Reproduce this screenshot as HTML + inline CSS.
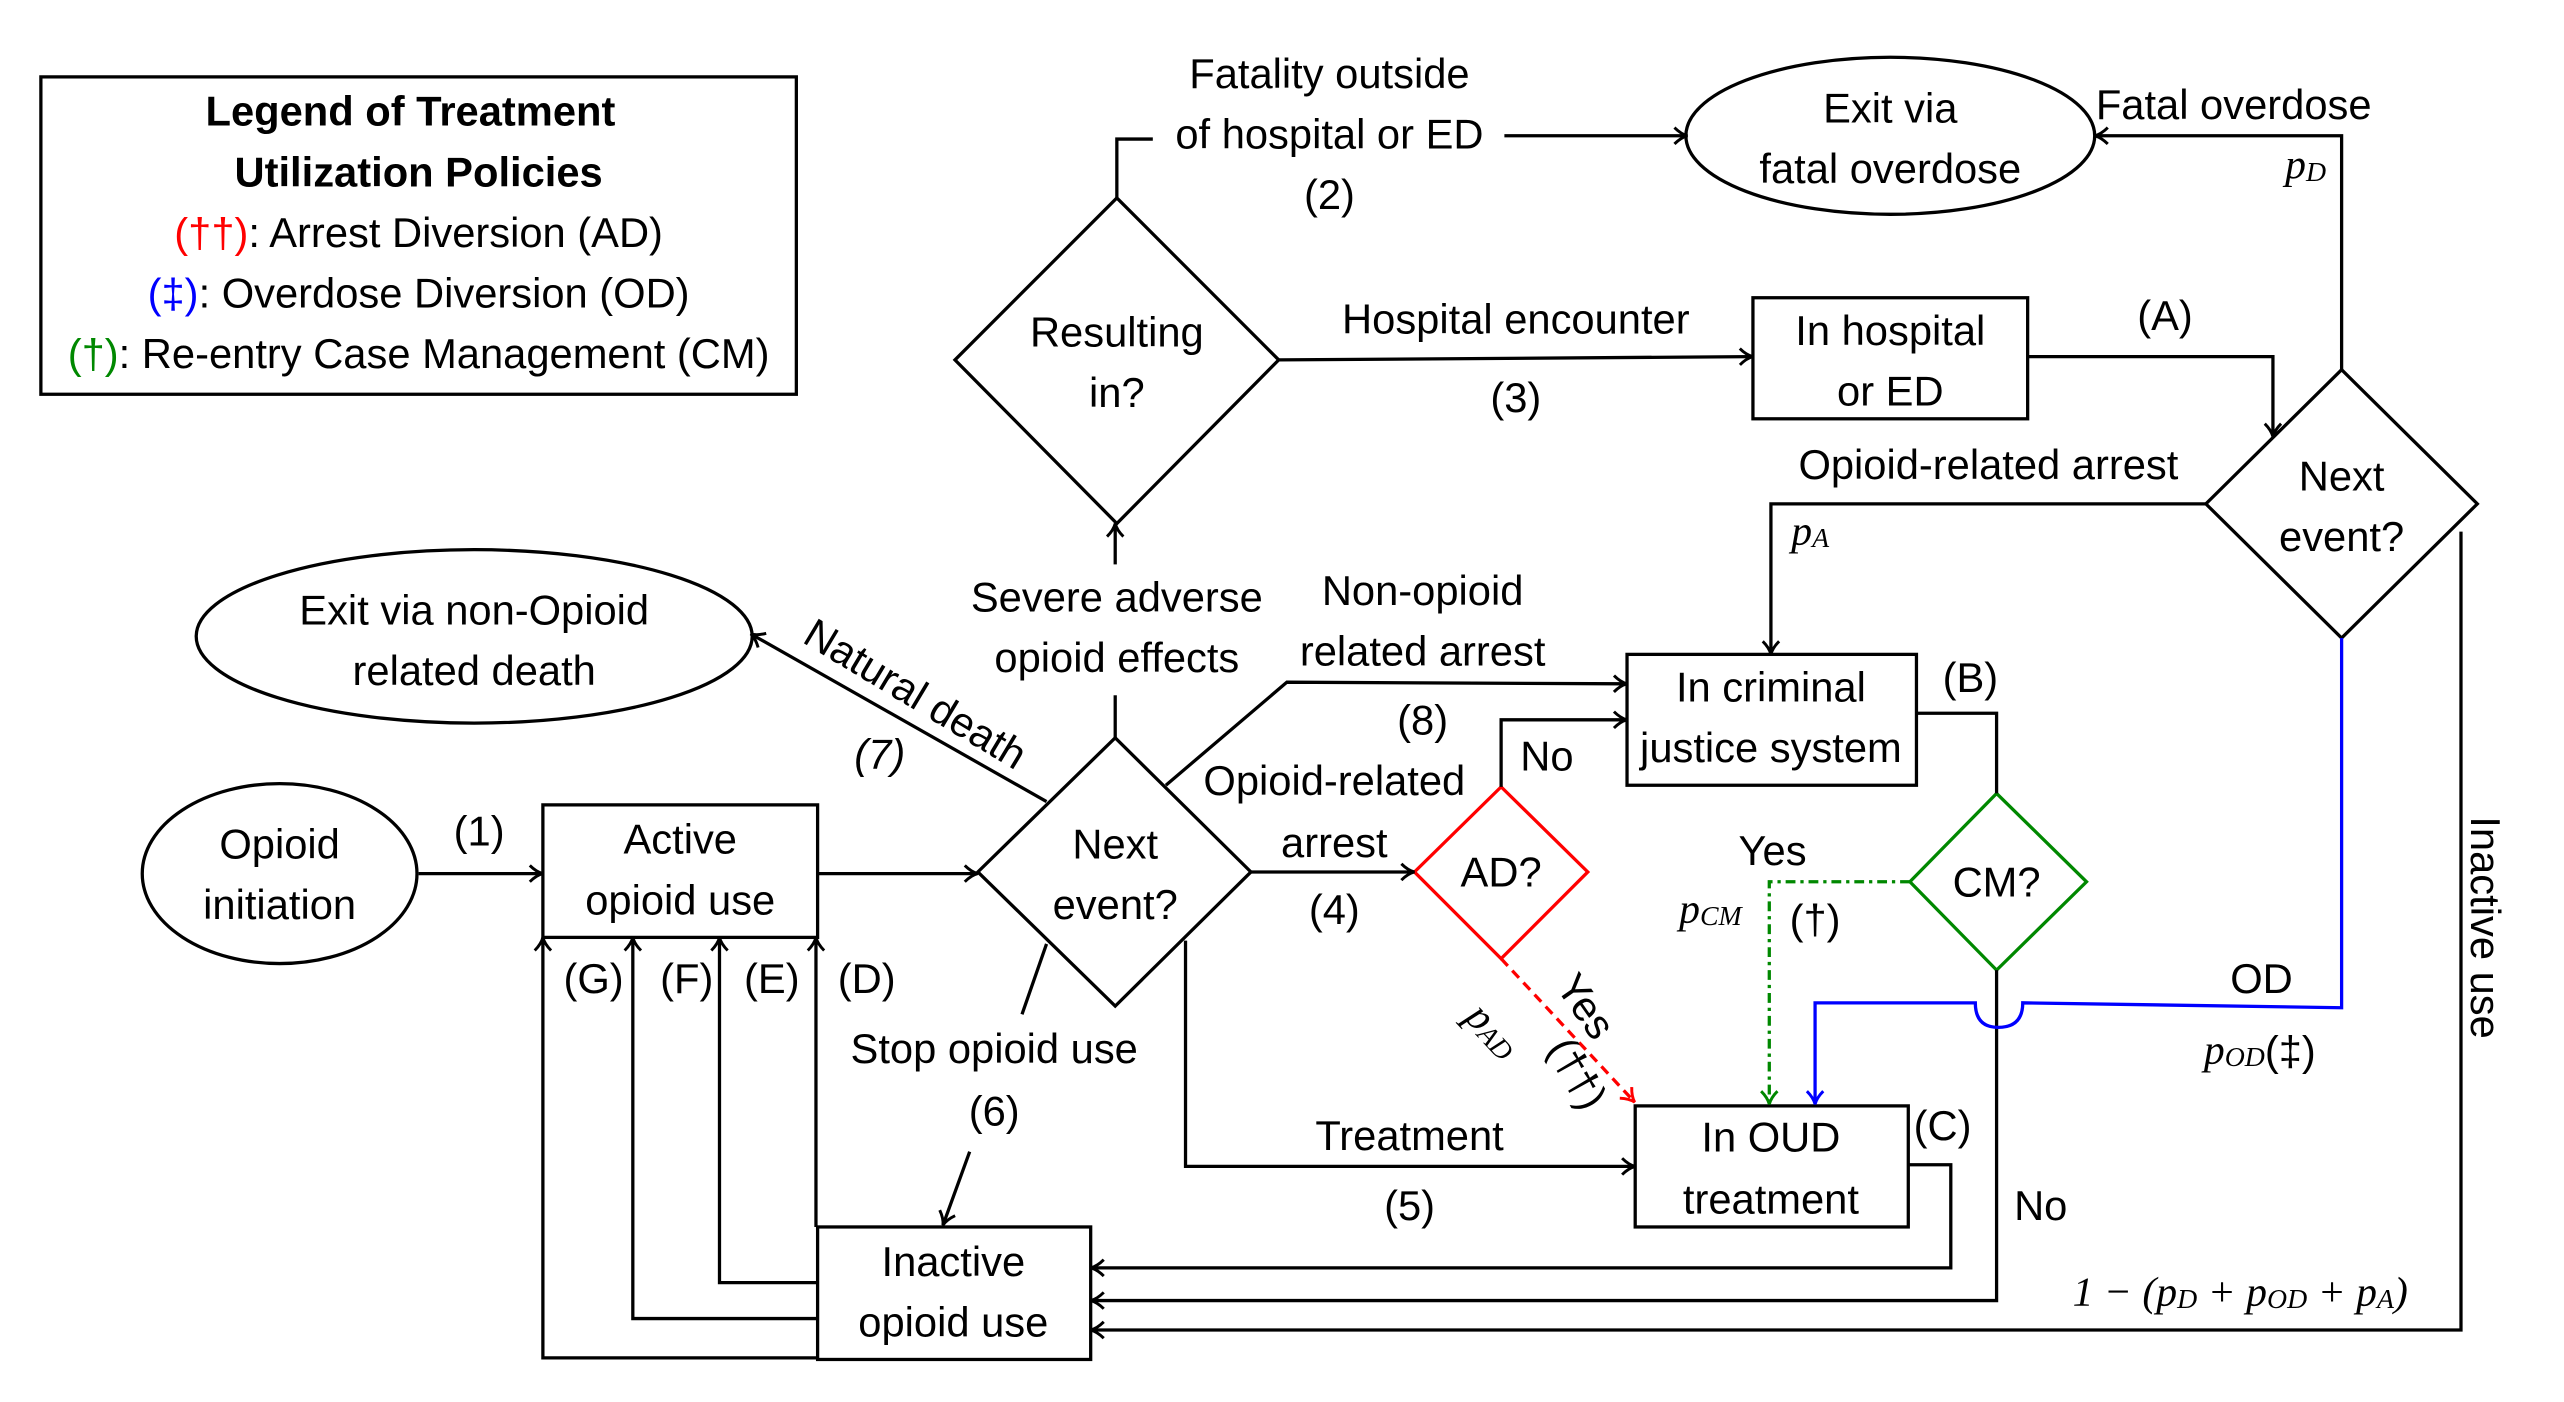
<!DOCTYPE html>
<html><head><meta charset="utf-8"><style>
html,body{margin:0;padding:0;background:#fff;}
svg{display:block;}
text{font-family:"Liberation Sans",sans-serif;font-size:25.5px;fill:#000;text-anchor:middle;dominant-baseline:central;}
.it{font-family:"Liberation Serif",serif;font-style:italic;}
</style></head><body>
<svg width="2564" height="1402" viewBox="0 0 1568 857" preserveAspectRatio="none" xmlns="http://www.w3.org/2000/svg">
<defs>
<marker id="a" markerWidth="12" markerHeight="12" refX="9" refY="6" orient="auto" markerUnits="userSpaceOnUse"><path d="M2,1 Q6,5 10,6 Q6,7 2,11" fill="none" stroke="#000" stroke-width="1.8"/></marker>
<marker id="ar" markerWidth="12" markerHeight="12" refX="9" refY="6" orient="auto" markerUnits="userSpaceOnUse"><path d="M2,1 Q6,5 10,6 Q6,7 2,11" fill="none" stroke="#f00" stroke-width="1.8"/></marker>
<marker id="ag" markerWidth="12" markerHeight="12" refX="9" refY="6" orient="auto" markerUnits="userSpaceOnUse"><path d="M2,1 Q6,5 10,6 Q6,7 2,11" fill="none" stroke="#080" stroke-width="1.8"/></marker>
<marker id="ab" markerWidth="12" markerHeight="12" refX="9" refY="6" orient="auto" markerUnits="userSpaceOnUse"><path d="M2,1 Q6,5 10,6 Q6,7 2,11" fill="none" stroke="#00f" stroke-width="1.8"/></marker>
</defs>
<g fill="none" stroke="#000" stroke-width="2">
<rect x="25" y="47" width="462" height="194"/>
<polygon points="683,121 782,220 683,320 584,220"/>
<ellipse cx="1156" cy="83" rx="125" ry="48"/>
<rect x="1072" y="182" width="168" height="74"/>
<polygon points="1432,226 1515,308 1432,390 1349,308"/>
<rect x="995" y="400" width="177" height="80"/>
<polygon points="1221,485 1276,539 1221,593 1168,539" stroke="#080"/>
<polygon points="918,481 971,533 918,586 865,533" stroke="#f00"/>
<rect x="1000" y="676" width="167" height="74"/>
<rect x="500" y="750" width="167" height="81"/>
<rect x="332" y="492" width="168" height="81"/>
<ellipse cx="171" cy="534" rx="84" ry="55"/>
<polygon points="682,451 765,533 682,615 598,533"/>
<ellipse cx="290" cy="389" rx="170" ry="53"/>
<polyline points="683,121 683,85 705,85"/>
<line x1="920" y1="83" x2="1031" y2="83" marker-end="url(#a)"/>
<polyline points="1432,226 1432,83 1282,83" marker-end="url(#a)"/>
<line x1="782" y1="220" x2="1071" y2="218" marker-end="url(#a)"/>
<polyline points="1240,218 1390,218 1390,266" marker-end="url(#a)"/>
<polyline points="1349,308 1083,308 1083,399" marker-end="url(#a)"/>
<polyline points="1172,436 1221,436 1221,485"/>
<polyline points="1221,593 1221,795 668,795" marker-end="url(#a)"/>
<polyline points="1505,325 1505,813 668,813" marker-end="url(#a)"/>
<polyline points="1167,712 1193,712 1193,775 668,775" marker-end="url(#a)"/>
<line x1="256" y1="534" x2="331" y2="534" marker-end="url(#a)"/>
<line x1="500" y1="534" x2="597" y2="534" marker-end="url(#a)"/>
<line x1="682" y1="451" x2="682" y2="425"/>
<line x1="682" y1="345" x2="682" y2="321" marker-end="url(#a)"/>
<line x1="640" y1="490" x2="460" y2="388" marker-end="url(#a)"/>
<polyline points="713,480 787,417 994,418" marker-end="url(#a)"/>
<line x1="765" y1="533" x2="864" y2="533" marker-end="url(#a)"/>
<polyline points="918,481 918,440 994,440" marker-end="url(#a)"/>
<polyline points="725,575 725,713 999,713" marker-end="url(#a)"/>
<line x1="640" y1="577" x2="625" y2="620"/>
<line x1="593" y1="704" x2="577" y2="748" marker-end="url(#a)"/>
<line x1="499" y1="750" x2="499" y2="574" marker-end="url(#a)"/>
<polyline points="500,784 440,784 440,574" marker-end="url(#a)"/>
<polyline points="500,806 387,806 387,574" marker-end="url(#a)"/>
<polyline points="500,830 332,830 332,574" marker-end="url(#a)"/>
<line x1="918" y1="586" x2="999" y2="673" stroke="#f00" stroke-dasharray="6,4" marker-end="url(#ar)"/>
<polyline points="1168,539 1082,539 1082,674" stroke="#080" stroke-dasharray="6,3,2,3" marker-end="url(#ag)"/>
<path d="M1432,390 L1432,616 L1237,613 Q1237,628 1222,628 Q1208,628 1208,613 L1110,613 L1110,674" stroke="#00f" marker-end="url(#ab)"/>
</g>
<text x="251" y="68" font-weight="bold">Legend of Treatment</text>
<text x="256" y="105" font-weight="bold">Utilization Policies</text>
<text x="256" y="142"><tspan fill="#f00">(††)</tspan>: Arrest Diversion (AD)</text>
<text x="256" y="179"><tspan fill="#00f">(‡)</tspan>: Overdose Diversion (OD)</text>
<text x="256" y="216"><tspan fill="#080">(†)</tspan>: Re-entry Case Management (CM)</text>
<text x="683" y="203">Resulting</text><text x="683" y="240">in?</text>
<text x="1156" y="66">Exit via</text><text x="1156" y="103">fatal overdose</text>
<text x="1156" y="202">In hospital</text><text x="1156" y="239">or ED</text>
<text x="1432" y="291">Next</text><text x="1432" y="328">event?</text>
<text x="1083" y="420">In criminal</text><text x="1083" y="457">justice system</text>
<text x="1221" y="539">CM?</text>
<text x="918" y="533">AD?</text>
<text x="1083" y="695">In OUD</text><text x="1083" y="733">treatment</text>
<text x="583" y="771">Inactive</text><text x="583" y="808">opioid use</text>
<text x="416" y="513">Active</text><text x="416" y="550">opioid use</text>
<text x="171" y="516">Opioid</text><text x="171" y="553">initiation</text>
<text x="682" y="516">Next</text><text x="682" y="553">event?</text>
<text x="290" y="373">Exit via non-Opioid</text><text x="290" y="410">related death</text>
<text x="813" y="45">Fatality outside</text><text x="813" y="82">of hospital or ED</text><text x="813" y="119">(2)</text>
<text x="1366" y="64">Fatal overdose</text>
<text x="1410" y="101" class="it">p<tspan font-size="17" dy="4">D</tspan></text>
<text x="927" y="195">Hospital encounter</text><text x="927" y="243">(3)</text>
<text x="1324" y="193">(A)</text>
<text x="1216" y="284">Opioid-related arrest</text>
<text x="1107" y="325" class="it">p<tspan font-size="17" dy="4">A</tspan></text>
<text x="1205" y="414">(B)</text>
<text x="1084" y="520" fill="#080">Yes</text>
<text x="1046" y="556" class="it" fill="#080">p<tspan font-size="17" dy="4">CM</tspan></text>
<text x="1110" y="562" fill="#080">(†)</text>
<text x="1248" y="737">No</text>
<text x="1383" y="598" fill="#00f">OD</text>
<text x="1382" y="642" fill="#00f"><tspan class="it">p</tspan><tspan class="it" font-size="17" dy="4">OD</tspan><tspan dy="-4">(‡)</tspan></text>
<text x="1520" y="567" transform="rotate(90 1520 567)">Inactive use</text>
<text x="1370" y="790" class="it">1 − (p<tspan font-size="17" dy="4">D</tspan><tspan dy="-4"> + p</tspan><tspan font-size="17" dy="4">OD</tspan><tspan dy="-4"> + p</tspan><tspan font-size="17" dy="4">A</tspan><tspan dy="-4">)</tspan></text>
<text x="1188" y="688">(C)</text>
<text x="293" y="508">(1)</text>
<text x="683" y="365">Severe adverse</text><text x="683" y="402">opioid effects</text>
<text x="560" y="424" transform="rotate(31 560 424)">Natural death</text>
<text x="538" y="461" font-style="italic">(7)</text>
<text x="870" y="361">Non-opioid</text><text x="870" y="398">related arrest</text><text x="870" y="440">(8)</text>
<text x="816" y="477">Opioid-related</text><text x="816" y="515">arrest</text><text x="816" y="556">(4)</text>
<text x="946" y="462">No</text>
<text x="970" y="615" fill="#f00" transform="rotate(55 970 615)">Yes</text>
<text x="913" y="630" fill="#f00" class="it" transform="rotate(47 913 630)">p<tspan font-size="17" dy="4">AD</tspan></text>
<text x="965" y="656" fill="#f00" transform="rotate(60 965 656)">(††)</text>
<text x="862" y="694">Treatment</text><text x="862" y="737">(5)</text>
<text x="608" y="641">Stop opioid use</text><text x="608" y="679">(6)</text>
<text x="363" y="598">(G)</text><text x="420" y="598">(F)</text><text x="472" y="598">(E)</text><text x="530" y="598">(D)</text>
</svg>
</body></html>
